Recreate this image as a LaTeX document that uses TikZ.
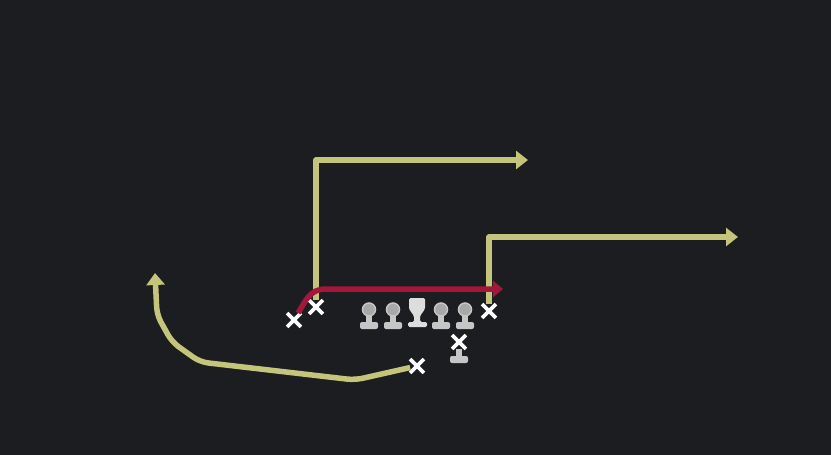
\documentclass[tikz,border=0pt]{standalone}
\usetikzlibrary{arrows.meta,shapes.misc}
\definecolor{field}{HTML}{1B1D21}
\definecolor{route}{HTML}{C4C47A}
\definecolor{block}{HTML}{A3173A}
\definecolor{body}{HTML}{C6C6C6}
\begin{document}
\begin{tikzpicture}
      [x=1pt,y=-1pt,
       every node/.style={cross out,draw=white,line width=3.8pt,minimum size=10pt,inner sep=0pt},
       routeline/.style={draw=route,line width=5.5pt,line join=round,-{Triangle[width=18pt,length=12pt]}},
       blockline/.style={draw=block,line width=5.5pt,-{Triangle[width=16pt,length=10pt]}},
       lineman/.style={draw=body,line width=1.5pt}]
      \fill [field] (0,0) rectangle (831,455);
      \useasboundingbox (0,0) rectangle (831,455);

      % linemen
      \foreach \x in {369,393,441,465} {
        \fill [body] (\x-3,315) rectangle (\x+3,325);
        \fill [body, rounded corners=2pt] (\x-9,322) rectangle (\x+9,329);
        \draw [lineman, fill=body!85!black] (\x,309.5) circle (6.5);
      }
      % center
      \fill [body!60!white, rounded corners=1.5pt]
        (409,298) -- (425,298) -- (425,309) -- (420,316) -- (420,322)
        -- (427,322) -- (427,327) -- (408,327) -- (408,322) -- (414,322)
        -- (414,316) -- (409,309) -- cycle;
      % qb stand
      \fill [body] (456,349) rectangle (462,358);
      \fill [body, rounded corners=2pt] (450,356) rectangle (468,363);

      \node (x1) at (294,320) {};
      \node (x2) at (316,307) {};
      \node (x3) at (489,311) {};
      \node (x4) at (417,366) {};
      \node (x5) at (459,342) {};

      \coordinate (e2) at (528,160);
      \coordinate (e3) at (738,237);
      \coordinate (e4) at (155,273);
      \coordinate (e1) at (503,289);

      \draw [routeline] (x2) -- (316,160) -- (e2);
      \draw [routeline] (x3) -- (489,237) -- (e3);
      \draw [routeline, rounded corners=8pt]
        (x4) -- (355,380) -- (200,362) -- (172,342) -- (157,315) -- (e4);
      \draw [blockline] (x1) .. controls (306,300) and (310,289) .. (326,289) -- (e1);
    \end{tikzpicture}
\end{document}
